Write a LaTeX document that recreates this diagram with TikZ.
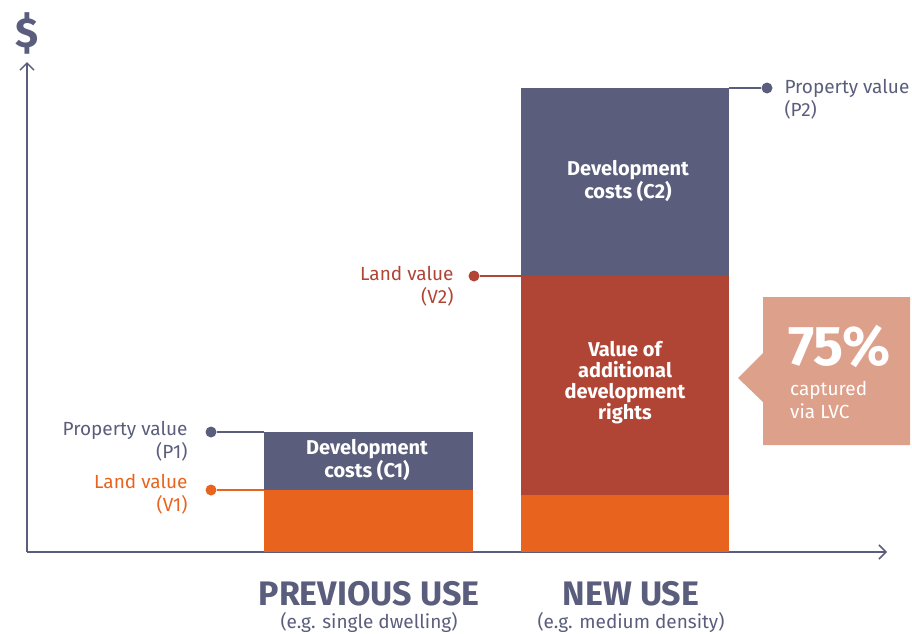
\documentclass[tikz,border=0pt]{standalone}
\usepackage{fontspec}
\setmainfont{Fira Sans}
\usetikzlibrary{arrows.meta,positioning,calc}
\definecolor{slate}{HTML}{5A5E7C}
\definecolor{landorange}{HTML}{E8641E}
\definecolor{landred}{HTML}{B04535}
\definecolor{capture}{HTML}{DDA08A}

\begin{document}
\begin{tikzpicture}[x=1pt,y=-1pt,
    lbl/.style={font=\fontsize{19}{23}\selectfont,align=right,anchor=east},
    dot/.style={circle,fill,inner sep=0pt,minimum size=11pt},
    link/.style={line width=1.8pt},
    axis/.style={slate,line width=1.5pt,-{Straight Barb[length=7pt,width=14pt,line width=1.5pt]}},
    bartext/.style={text=white,font=\bfseries\fontsize{20}{21}\selectfont,align=center},
    usetext/.style={text=slate,font=\bfseries\fontsize{34}{34}\selectfont},
    egtext/.style={text=slate,font=\fontsize{19}{20}\selectfont}]
  \useasboundingbox (0,0) rectangle (912,633);

  % axes
  \coordinate (O) at (27,552);
  \coordinate (ytop) at (27,62);
  \coordinate (xend) at (887,552);
  \draw[axis] (O) -- (ytop);
  \draw[axis] (O) -- (xend);
  \node[text=slate,font=\bfseries\fontsize{42}{42}\selectfont] (dollar) at (27,33) {\$};

  % previous use bar
  \fill[landorange] (264,490) rectangle (473,552);
  \fill[slate] (264,432) rectangle (473,490);
  \node[bartext] (C1) at (367,460) {Development\\costs (C1)};

  % new use bar
  \fill[landorange] (521,495) rectangle (729,552);
  \fill[landred] (521,276) rectangle (729,495);
  \fill[slate] (521,88) rectangle (729,276);
  \node[bartext] (C2) at (628,181) {Development\\costs (C2)};
  \node[bartext] (rights) at (625,383) {Value of\\additional\\development\\rights};

  % value markers
  \coordinate (P1bar) at (264,432);
  \coordinate (V1bar) at (264,490);
  \coordinate (V2bar) at (521,276);
  \coordinate (P2bar) at (729,88);
  \node[dot,slate] (P1dot) at (211,432) {};
  \node[dot,landorange] (V1dot) at (211,490) {};
  \node[dot,landred] (V2dot) at (474,276) {};
  \node[dot,slate] (P2dot) at (767,88) {};
  \draw[link,slate] (P1dot) -- (P1bar);
  \draw[link,landorange] (V1dot) -- (V1bar);
  \draw[link,landred] (V2dot) -- (V2bar);
  \draw[link,slate] (P2dot) -- (P2bar);

  \node[lbl,text=slate] (P1) at (191,441) {Property value\\(P1)};
  \node[lbl,text=landorange] (V1) at (191,494) {Land value\\(V1)};
  \node[lbl,text=landred] (V2) at (457,286) {Land value\\(V2)};
  \node[lbl,text=slate,align=left,anchor=west] (P2) at (781,99) {Property value\\(P2)};

  % captured share
  \fill[capture] (763,297) -- (910,297) -- (910,445) -- (763,445)
    -- (763,402) -- (738,378) -- (763,353) -- cycle;
  \node[text=white,font=\bfseries\fontsize{56}{56}\selectfont,anchor=base west,inner sep=0pt] (pct) at (788,365) {75\%};
  \node[text=white,font=\fontsize{19}{23}\selectfont,align=left,anchor=base west,inner sep=0pt] (LVC) at (790,418) {captured\\via LVC};

  % categories
  \node[usetext] (prev) at (369,594) {PREVIOUS USE};
  \node[egtext] (prevEg) at (369,622) {(e.g. single dwelling)};
  \node[usetext] (new) at (631,594) {NEW USE};
  \node[egtext] (newEg) at (631,622) {(e.g. medium density)};
\end{tikzpicture}
\end{document}
